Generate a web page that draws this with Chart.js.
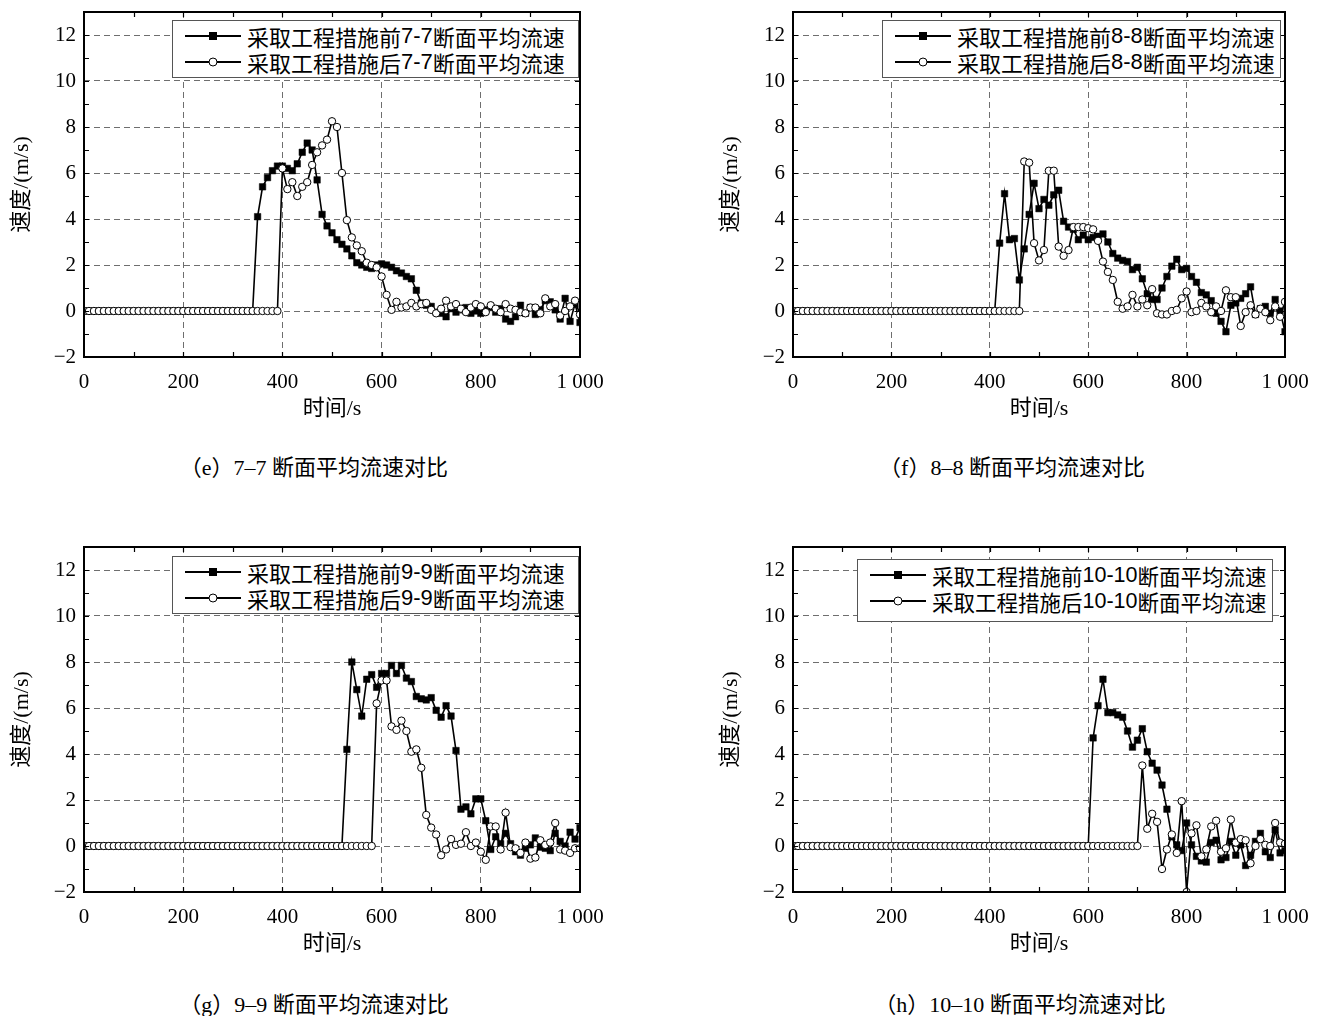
<!DOCTYPE html>
<html lang="zh-CN">
<head>
  <meta charset="UTF-8">
  <title>断面平均流速对比</title>
  <style>
    body {
      margin: 0;
      width: 1321px;
      height: 1016px;
      overflow: hidden;
      position: relative;
      background: #fff;
      color: #000;
      font-family: "Liberation Serif", "Noto Sans CJK SC", serif;
    }
    canvas { position: absolute; }
    .legend {
      position: absolute;
      box-sizing: border-box;
      border: 1px solid #555;
      background: #fff;
      font-size: 22px;
      padding-top: 2px;
    }
    .legend .row {
      display: flex;
      align-items: center;
      height: 26px;
      white-space: nowrap;
    }
    .legend svg { margin: 0 6px 0 12px; }
    .legend .num { font-family: "Liberation Sans", Arial, sans-serif; }
    .cap {
      position: absolute;
      width: 500px;
      text-align: center;
      font-size: 22px;
      white-space: nowrap;
    }
  </style>
</head>
<body>

  <canvas id="chartE" width="640" height="440" style="left:0;top:0"></canvas>
  <canvas id="chartF" width="612" height="440" style="left:709px;top:0"></canvas>
  <canvas id="chartG" width="640" height="440" style="left:0;top:535px"></canvas>
  <canvas id="chartH" width="612" height="440" style="left:709px;top:535px"></canvas>

  <div class="legend" style="left:172px;top:20px;width:407px;height:58px">
    <div class="row"><svg width="56" height="14"><line x1="0" y1="7" x2="56" y2="7" stroke="#000" stroke-width="2"/><rect x="24" y="3" width="8" height="8" fill="#000"/></svg>采取工程措施前<span class="num">7-7</span>断面平均流速</div>
    <div class="row"><svg width="56" height="14"><line x1="0" y1="7" x2="56" y2="7" stroke="#000" stroke-width="2"/><circle cx="28" cy="7" r="4" fill="#fff" stroke="#000"/></svg>采取工程措施后<span class="num">7-7</span>断面平均流速</div>
  </div>
  <div class="legend" style="left:882px;top:20px;width:399px;height:58px">
    <div class="row"><svg width="56" height="14"><line x1="0" y1="7" x2="56" y2="7" stroke="#000" stroke-width="2"/><rect x="24" y="3" width="8" height="8" fill="#000"/></svg>采取工程措施前<span class="num">8-8</span>断面平均流速</div>
    <div class="row"><svg width="56" height="14"><line x1="0" y1="7" x2="56" y2="7" stroke="#000" stroke-width="2"/><circle cx="28" cy="7" r="4" fill="#fff" stroke="#000"/></svg>采取工程措施后<span class="num">8-8</span>断面平均流速</div>
  </div>
  <div class="legend" style="left:172px;top:556px;width:407px;height:58px">
    <div class="row"><svg width="56" height="14"><line x1="0" y1="7" x2="56" y2="7" stroke="#000" stroke-width="2"/><rect x="24" y="3" width="8" height="8" fill="#000"/></svg>采取工程措施前<span class="num">9-9</span>断面平均流速</div>
    <div class="row"><svg width="56" height="14"><line x1="0" y1="7" x2="56" y2="7" stroke="#000" stroke-width="2"/><circle cx="28" cy="7" r="4" fill="#fff" stroke="#000"/></svg>采取工程措施后<span class="num">9-9</span>断面平均流速</div>
  </div>
  <div class="legend" style="left:857px;top:559px;width:416px;height:63px;font-size:21.5px">
    <div class="row"><svg width="56" height="14"><line x1="0" y1="7" x2="56" y2="7" stroke="#000" stroke-width="2"/><rect x="24" y="3" width="8" height="8" fill="#000"/></svg>采取工程措施前<span class="num">10-10</span>断面平均流速</div>
    <div class="row"><svg width="56" height="14"><line x1="0" y1="7" x2="56" y2="7" stroke="#000" stroke-width="2"/><circle cx="28" cy="7" r="4" fill="#fff" stroke="#000"/></svg>采取工程措施后<span class="num">10-10</span>断面平均流速</div>
  </div>

  <div class="cap" style="left:64px;top:449px">（e）7–7 断面平均流速对比</div>
  <div class="cap" style="left:762px;top:449px">（f）8–8 断面平均流速对比</div>
  <div class="cap" style="left:64px;top:986px">（g）9–9 断面平均流速对比</div>
  <div class="cap" style="left:770px;top:986px">（h）10–10 断面平均流速对比</div>

  <script src="https://cdn.jsdelivr.net/npm/chart.js"></script>
  <script>
    // time axis, s
    const time = [
      0, 10, 20, 30, 40, 50, 60, 70, 80, 90,
      100, 110, 120, 130, 140, 150, 160, 170, 180, 190,
      200, 210, 220, 230, 240, 250, 260, 270, 280, 290,
      300, 310, 320, 330, 340, 350, 360, 370, 380, 390,
      400, 410, 420, 430, 440, 450, 460, 470, 480, 490,
      500, 510, 520, 530, 540, 550, 560, 570, 580, 590,
      600, 610, 620, 630, 640, 650, 660, 670, 680, 690,
      700, 710, 720, 730, 740, 750, 760, 770, 780, 790,
      800, 810, 820, 830, 840, 850, 860, 870, 880, 890,
      900, 910, 920, 930, 940, 950, 960, 970, 980, 990,
      1000
    ];

    // 7-7
    const eBefore = [
      0, 0, 0, 0, 0, 0, 0, 0, 0, 0,
      0, 0, 0, 0, 0, 0, 0, 0, 0, 0,
      0, 0, 0, 0, 0, 0, 0, 0, 0, 0,
      0, 0, 0, 0, 0, 4.1, 5.4, 5.8, 6.1, 6.3,
      6.3, 6.2, 6.1, 6.4, 6.9, 7.3, 7.0, 5.7, 4.2, 3.7,
      3.4, 3.1, 2.9, 2.7, 2.4, 2.1, 2.0, 1.9, 1.85, 2.0,
      2.05, 2.0, 1.9, 1.75, 1.65, 1.5, 1.4, 0.9, 0.35, 0.25,
      0.2, -0.05, -0.1, -0.25, 0.1, -0.05, 0.05, 0.15, -0.1, 0.0,
      -0.1, 0.05, 0.15, -0.05, 0.1, -0.35, -0.45, -0.25, 0.25, -0.1,
      0.15, -0.15, 0.05, 0.45, 0.4, 0.05, -0.35, 0.55, -0.45, 0.3,
      -0.5
    ];
    const eAfter = [
      0, 0, 0, 0, 0, 0, 0, 0, 0, 0,
      0, 0, 0, 0, 0, 0, 0, 0, 0, 0,
      0, 0, 0, 0, 0, 0, 0, 0, 0, 0,
      0, 0, 0, 0, 0, 0, 0, 0, 0, 0,
      6.2, 5.3, 5.6, 5.0, 5.4, 5.6, 6.35, 6.9, 7.2, 7.45,
      8.25, 8.0, 6.0, 3.95, 3.2, 2.85, 2.6, 2.1, 2.0, 1.9,
      1.5, 0.7, 0.05, 0.4, 0.15, 0.2, 0.35, 0.2, 0.3, 0.35,
      0.05, -0.1, 0.1, 0.45, 0.2, 0.3, 0.1, -0.05, 0.15, 0.3,
      0.2, -0.05, 0.25, 0.1, -0.05, 0.3, 0.1, 0.05, -0.05, -0.1,
      0.15, 0.15, -0.1, 0.55, 0.2, 0.3, -0.2, 0.0, 0.2, 0.45,
      -0.15
    ];

    // 8-8
    const fBefore = [
      0, 0, 0, 0, 0, 0, 0, 0, 0, 0,
      0, 0, 0, 0, 0, 0, 0, 0, 0, 0,
      0, 0, 0, 0, 0, 0, 0, 0, 0, 0,
      0, 0, 0, 0, 0, 0, 0, 0, 0, 0,
      0, 0, 2.95, 5.1, 3.1, 3.15, 1.35, 2.7, 4.2, 5.55,
      4.45, 4.85, 4.6, 5.05, 5.25, 3.9, 3.65, 3.55, 3.1, 3.3,
      3.1, 3.2, 3.25, 3.35, 3.0, 2.5, 2.3, 2.2, 2.15, 1.8,
      1.9, 1.4, 0.75, 0.5, 0.5, 1.0, 1.5, 1.95, 2.25, 1.8,
      1.85, 1.5, 1.25, 0.8, 0.7, 0.45, -0.1, -0.45, -0.9, 0.25,
      0.35, 0.55, 0.75, 1.05, -0.15, 0.1, 0.2, -0.1, 0.5, 0.0,
      -0.9
    ];
    const fAfter = [
      0, 0, 0, 0, 0, 0, 0, 0, 0, 0,
      0, 0, 0, 0, 0, 0, 0, 0, 0, 0,
      0, 0, 0, 0, 0, 0, 0, 0, 0, 0,
      0, 0, 0, 0, 0, 0, 0, 0, 0, 0,
      0, 0, 0, 0, 0, 0, 0, 6.5, 6.45, 2.95,
      2.2, 2.65, 6.1, 6.1, 2.8, 2.4, 2.65, 3.65, 3.65, 3.65,
      3.6, 3.55, 3.05, 2.15, 1.7, 1.35, 0.4, 0.1, 0.2, 0.7,
      0.2, 0.5, 0.25, 0.95, -0.1, -0.15, -0.15, 0.0, 0.05, 0.55,
      0.85, -0.05, 0.0, 0.35, 0.2, -0.05, 0.2, 0.0, 0.9, 0.6,
      0.6, -0.65, -0.05, 0.25, -0.15, 0.1, -0.05, -0.4, 0.2, -0.25,
      0.4
    ];

    // 9-9
    const gBefore = [
      0, 0, 0, 0, 0, 0, 0, 0, 0, 0,
      0, 0, 0, 0, 0, 0, 0, 0, 0, 0,
      0, 0, 0, 0, 0, 0, 0, 0, 0, 0,
      0, 0, 0, 0, 0, 0, 0, 0, 0, 0,
      0, 0, 0, 0, 0, 0, 0, 0, 0, 0,
      0, 0, 0, 4.2, 8.0, 6.8, 5.65, 7.25, 7.45, 6.9,
      7.5, 7.5, 7.85, 7.5, 7.85, 7.3, 7.15, 6.5, 6.4, 6.35,
      6.45, 5.9, 5.6, 6.1, 5.65, 4.15, 1.6, 1.7, 1.4, 2.05,
      2.05, 1.1, -0.15, 0.4, 0.1, 0.55, 0.1, -0.25, -0.4, -0.1,
      0.05, 0.35, -0.05, -0.1, -0.2, 0.55, 0.2, 0.0, 0.6, 0.3,
      0.8
    ];
    const gAfter = [
      0, 0, 0, 0, 0, 0, 0, 0, 0, 0,
      0, 0, 0, 0, 0, 0, 0, 0, 0, 0,
      0, 0, 0, 0, 0, 0, 0, 0, 0, 0,
      0, 0, 0, 0, 0, 0, 0, 0, 0, 0,
      0, 0, 0, 0, 0, 0, 0, 0, 0, 0,
      0, 0, 0, 0, 0, 0, 0, 0, 0, 6.2,
      7.2, 7.2, 5.2, 5.05, 5.45, 5.0, 4.1, 4.2, 3.4, 1.35,
      0.8, 0.5, -0.4, -0.15, 0.3, 0.05, 0.1, 0.6, 0.0, 0.15,
      -0.25, -0.6, 0.85, 0.85, -0.15, 1.45, -0.05, -0.1, -0.3, 0.15,
      -0.55, -0.5, 0.25, 0.05, 0.15, 1.0, -0.15, -0.2, -0.3, -0.1,
      -0.1
    ];

    // 10-10
    const hBefore = [
      0, 0, 0, 0, 0, 0, 0, 0, 0, 0,
      0, 0, 0, 0, 0, 0, 0, 0, 0, 0,
      0, 0, 0, 0, 0, 0, 0, 0, 0, 0,
      0, 0, 0, 0, 0, 0, 0, 0, 0, 0,
      0, 0, 0, 0, 0, 0, 0, 0, 0, 0,
      0, 0, 0, 0, 0, 0, 0, 0, 0, 0,
      0, 4.7, 6.1, 7.25, 5.8, 5.8, 5.7, 5.6, 5.0, 4.3,
      4.6, 5.1, 4.1, 3.6, 3.3, 2.65, 1.6, 0.4, 0.05, -0.2,
      1.0, 0.05, -0.45, -0.65, -0.7, 0.15, 0.25, -0.6, -0.5, 0.2,
      -0.4, 0.05, -0.85, -0.4, 0.2, 0.55, -0.25, -0.5, 0.7, -0.3,
      -0.2
    ];
    const hAfter = [
      0, 0, 0, 0, 0, 0, 0, 0, 0, 0,
      0, 0, 0, 0, 0, 0, 0, 0, 0, 0,
      0, 0, 0, 0, 0, 0, 0, 0, 0, 0,
      0, 0, 0, 0, 0, 0, 0, 0, 0, 0,
      0, 0, 0, 0, 0, 0, 0, 0, 0, 0,
      0, 0, 0, 0, 0, 0, 0, 0, 0, 0,
      0, 0, 0, 0, 0, 0, 0, 0, 0, 0,
      0, 3.5, 0.75, 1.4, 1.05, -1.0, -0.15, 0.5, -0.3, 1.95,
      -2.0, 0.55, 0.9, -0.45, -0.15, 0.85, 1.1, -0.25, -0.1, 1.15,
      0.15, 0.3, 0.25, -0.75, 0.0, 0.3, 0.05, 0.0, 1.0, 0.15,
      0.1
    ];

    // minor tick marks on the frame
    const xMinorTicks = [100, 200, 300, 400, 500, 600, 700, 800, 900];
    const yMinorTicks = [-1, 0, 1, 2, 3, 4, 5, 6, 7, 8, 9, 10, 11, 12];

    const framePlugin = {
      id: 'frame',
      afterDatasetsDraw(chart) {
        const { ctx, chartArea: a, scales: { x, y } } = chart;
        ctx.save();
        ctx.strokeStyle = '#000';
        ctx.lineWidth = 1.2;
        ctx.beginPath();
        xMinorTicks.forEach(t => {
          const px = Math.round(x.getPixelForValue(t)) + 0.5;
          ctx.moveTo(px, a.bottom); ctx.lineTo(px, a.bottom - 5);
          ctx.moveTo(px, a.top); ctx.lineTo(px, a.top + 5);
        });
        yMinorTicks.forEach(v => {
          const py = Math.round(y.getPixelForValue(v)) + 0.5;
          ctx.moveTo(a.left, py); ctx.lineTo(a.left + 5, py);
          ctx.moveTo(a.right, py); ctx.lineTo(a.right - 5, py);
        });
        ctx.stroke();
        ctx.lineWidth = 2;
        ctx.strokeRect(a.left, a.top, a.right - a.left, a.bottom - a.top);
        ctx.restore();
      }
    };

    const tickFont = { family: 'Liberation Serif', size: 21 };
    const titleFont = { family: "'Liberation Serif', 'Noto Sans CJK SC'", size: 22 };

    function toPoints(values) {
      return values.map((v, i) => ({ x: time[i], y: v }));
    }

    function makeChart(id, before, after, padRight) {
      const canvas = document.getElementById(id);
      return new Chart(canvas.getContext('2d'), {
        type: 'line',
        data: {
          datasets: [
            {
              data: toPoints(before),
              borderColor: '#000',
              borderWidth: 1.6,
              pointStyle: 'rect',
              pointRadius: 4.6,
              pointBackgroundColor: '#000',
              pointBorderColor: '#000',
              pointBorderWidth: 0.5,
              order: 1
            },
            {
              data: toPoints(after),
              borderColor: '#000',
              borderWidth: 1.6,
              pointStyle: 'circle',
              pointRadius: 3.7,
              pointBackgroundColor: '#fff',
              pointBorderColor: '#000',
              pointBorderWidth: 1,
              order: 0
            }
          ]
        },
        options: {
          responsive: false,
          animation: false,
          devicePixelRatio: 1,
          layout: { padding: { top: 12, right: padRight, left: 0, bottom: 0 } },
          plugins: { legend: { display: false }, tooltip: { enabled: false } },
          scales: {
            x: {
              type: 'linear',
              min: 0,
              max: 1000,
              afterFit: s => { s.height = 83; s.paddingLeft = 0; s.paddingRight = 0; },
              ticks: {
                stepSize: 200,
                padding: 13,
                color: '#000',
                maxRotation: 0,
                font: tickFont,
                callback: v => (v === 1000 ? '1 000' : String(v))
              },
              grid: { color: '#6e6e6e', lineWidth: 1, drawTicks: false },
              border: { display: false, dash: [6, 4] },
              title: {
                display: true,
                text: '时间/s',
                color: '#000',
                font: titleFont,
                padding: { top: 0, bottom: 18 }
              }
            },
            y: {
              min: -2,
              max: 13,
              afterFit: s => { s.width = 84; s.paddingTop = 0; s.paddingBottom = 0; },
              ticks: {
                stepSize: 2,
                includeBounds: false,
                padding: 8,
                color: '#000',
                font: tickFont,
                callback: v => (v < 0 ? '\u2212' + Math.abs(v) : String(v))
              },
              grid: { color: '#6e6e6e', lineWidth: 1, drawTicks: false },
              border: { display: false, dash: [6, 4] },
              title: {
                display: true,
                text: '速度/(m/s)',
                color: '#000',
                font: titleFont,
                padding: { top: 9, bottom: 0 }
              }
            }
          }
        },
        plugins: [framePlugin]
      });
    }

    makeChart('chartE', eBefore, eAfter, 60);
    makeChart('chartF', fBefore, fAfter, 36);
    makeChart('chartG', gBefore, gAfter, 60);
    makeChart('chartH', hBefore, hAfter, 36);
  </script>

</body>
</html>
